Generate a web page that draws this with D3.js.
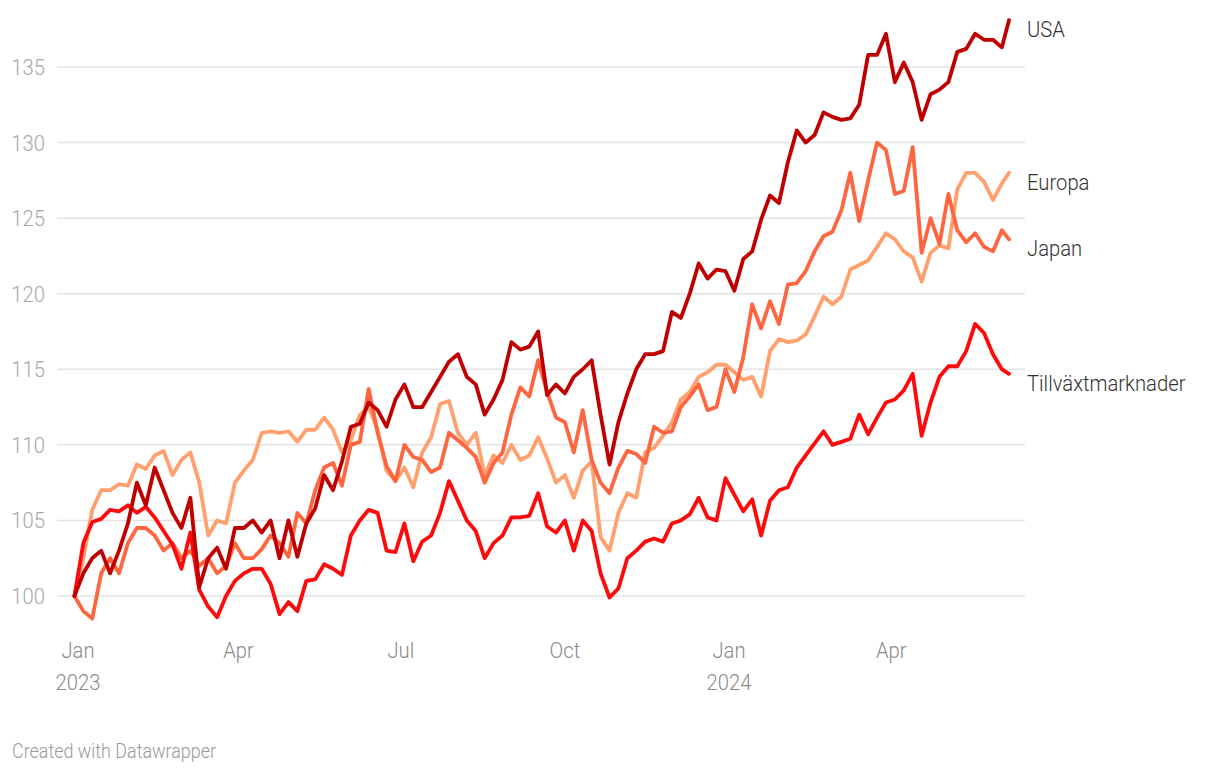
<!DOCTYPE html>
<html>
<head>
<meta charset="utf-8">
<script src="https://cdn.jsdelivr.net/npm/d3@7"></script>
<style>
  html, body { margin: 0; padding: 0; background: #fff; }
  svg text { font-family: "Roboto", "Noto Sans", sans-serif; font-weight: 300; }
</style>
</head>
<body>
<svg id="chart" width="1220" height="776"></svg>
<script>
// ---- Data (index, start = 100) ----
const startDate = "2022-12-30";   // first observation
const stepDays = 5;               // spacing of the sampled observations
const endDate = "2024-06-06";     // last observation

const usa = [100,101.5,102.5,103,101.5,103,104.8,107.5,106,108.5,107,105.5,104.5,106.5,100.6,102.5,103.2,101.8,104.5,104.5,
  105,104.2,105,102.5,105,102.6,104.8,105.8,108,107,108.9,111.2,111.4,112.8,112.3,111.2,113,114,112.5,112.5,
  113.5,114.5,115.5,116,114.5,114,112,113,114.3,116.8,116.3,116.5,117.5,113.3,114,113.4,114.5,115,115.6,112,
  108.7,111.5,113.4,115,116,116,116.2,118.8,118.4,120,122,121,121.6,121.5,120.2,122.3,122.8,124.9,126.5,126,
  128.7,130.8,130,130.5,132,131.7,131.5,131.6,132.5,135.8,135.8,137.2,134,135.3,134,131.5,133.2,133.5,134,136,
  136.2,137.2,136.8,136.8,136.3,138.1];
const europa = [100,102.5,105.7,107,107,107.4,107.3,108.7,108.4,109.3,109.6,108,109,109.5,107.5,104,105,104.8,107.5,108.3,
  109,110.8,110.9,110.8,110.9,110.2,111,111,111.8,111,109.5,110.3,112,112.5,111,108.3,107.6,108.5,107.2,109.5,
  110.5,112.7,112.9,110.8,110,110.8,108,109.3,108.8,110,109,109.3,110.5,109.1,107.5,108,106.5,108.3,108.9,103.9,
  103,105.5,106.8,106.5,109.5,109.8,110.6,111.5,113,113.5,114.5,114.8,115.3,115.3,114.8,114.3,114.5,113.2,116.2,117,
  116.8,116.9,117.3,118.5,119.8,119.3,119.8,121.6,121.9,122.2,123.1,124,123.6,122.8,122.4,120.8,122.7,123.2,123,126.9,
  128,128,127.4,126.2,127.3,128];
const japan = [100,99,98.5,101.5,102.5,101.5,103.5,104.5,104.5,104,103,103.5,102.5,103,102,102.5,101.5,102,103.5,102.5,
  102.5,103.1,104,103.5,102.6,105.5,104.8,107,108.5,108.8,107.3,110,110.2,113.7,110.8,108.6,107.6,110,109.2,109,
  108.2,108.5,110.8,110.3,109.8,109.2,107.5,108.8,109.5,112,113.8,113.2,115.6,113.5,111.8,111.5,109.5,112.3,109,107.5,
  106.8,108.5,109.6,109.4,108.8,111.2,110.8,110.9,112.5,113.2,114,112.3,112.5,115,113.5,115.8,119.3,117.7,119.5,118,
  120.6,120.7,121.5,122.8,123.8,124.1,125.5,128,124.8,127.5,130,129.5,126.6,126.8,129.7,122.7,125,123.3,126.6,124.2,
  123.4,124,123.1,122.8,124.2,123.6];
const tillvaxt = [100,103.5,104.9,105.1,105.7,105.6,106,105.5,105.9,105.2,104.3,103.4,101.8,104.2,100.4,99.3,98.6,100,101,101.5,
  101.8,101.8,100.8,98.8,99.6,99,101,101.1,102.1,101.8,101.4,104,105,105.7,105.5,103,102.9,104.8,102.3,103.6,
  104,105.5,107.6,106.3,105,104.3,102.5,103.5,104,105.2,105.2,105.3,106.8,104.6,104.2,105,103,105,104.3,101.5,
  99.9,100.5,102.5,103,103.6,103.8,103.6,104.8,105,105.4,106.5,105.2,105,107.8,106.7,105.6,106.4,104,106.3,107,
  107.2,108.5,109.3,110.1,110.9,110,110.2,110.4,112,110.7,111.8,112.8,113,113.6,114.7,110.6,112.8,114.5,115.2,115.2,
  116.2,118,117.4,116,115,114.7];

const seriesNames = ["Europa", "Japan", "Tillväxtmarknader", "USA"];
const seriesValues = [europa, japan, tillvaxt, usa];
const seriesColors = ["#ffa06e", "#ff6640", "#ff0a0a", "#c00000"];

const yTicks = [100, 105, 110, 115, 120, 125, 130, 135];
const xTickDates = ["2023-01-01", "2023-04-01", "2023-07-01", "2023-10-01", "2024-01-01", "2024-04-01"];
const xTickMonth = ["Jan", "Apr", "Jul", "Oct", "Jan", "Apr"];
const xTickYear = ["2023", "", "", "", "2024", ""];

// ---- Build ----
const parse = d3.utcParse("%Y-%m-%d");
const start = parse(startDate);
const n = usa.length;
const dates = d3.range(n).map(i => i === n - 1 ? parse(endDate) : d3.utcDay.offset(start, i * stepDays));

const svg = d3.select("#chart");
const x = d3.scaleUtc().domain([parse("2023-01-01"), parse("2024-01-01")]).range([78, 729]);
const y = d3.scaleLinear().domain([100, 135]).range([596, 67]);

const SX = 0.92; // condensed look
function ctext(g, px, py, str, opts) {
  const t = g.append("text")
    .attr("transform", `translate(${px},${py}) scale(${SX},1)`)
    .attr("x", 0).attr("y", 0)
    .attr("fill", opts.fill)
    .attr("font-size", opts.size)
    .attr("text-anchor", opts.anchor || "start")
    .text(str);
  if (opts.dy) t.attr("dy", opts.dy);
  return t;
}

// grid + y labels
const gridG = svg.append("g");
gridG.selectAll("line").data(yTicks).join("line")
  .attr("x1", 57).attr("x2", 1025)
  .attr("y1", d => y(d)).attr("y2", d => y(d))
  .attr("stroke", "#e3e3e3").attr("stroke-width", 1.5);
yTicks.forEach(d => ctext(gridG, 45, y(d), d, {fill: "#a8a8a8", size: 22, anchor: "end", dy: "0.36em"}));

// x labels
const xg = svg.append("g");
xTickDates.forEach((d, i) => {
  const xx = x(parse(d));
  ctext(xg, xx, 658, xTickMonth[i], {fill: "#8a8a8a", size: 22, anchor: "middle"});
  if (xTickYear[i]) ctext(xg, xx, 690, xTickYear[i], {fill: "#8a8a8a", size: 22, anchor: "middle"});
});

// lines
const line = d3.line().x((d, i) => x(dates[i])).y(d => y(d));
seriesValues.forEach((vals, k) => {
  svg.append("path").datum(vals)
    .attr("fill", "none")
    .attr("stroke", seriesColors[k])
    .attr("stroke-width", 3.8)
    .attr("stroke-linejoin", "round")
    .attr("stroke-linecap", "round")
    .attr("d", line);
});

// end labels
const lg = svg.append("g");
seriesValues.forEach((vals, k) => {
  ctext(lg, 1027, y(vals[vals.length - 1]) + 9, seriesNames[k], {fill: "#333", size: 22, dy: "0.36em"});
});

// footer
ctext(svg, 12, 758, "Created with Datawrapper", {fill: "#999", size: 19.5});
</script>
</body>
</html>
